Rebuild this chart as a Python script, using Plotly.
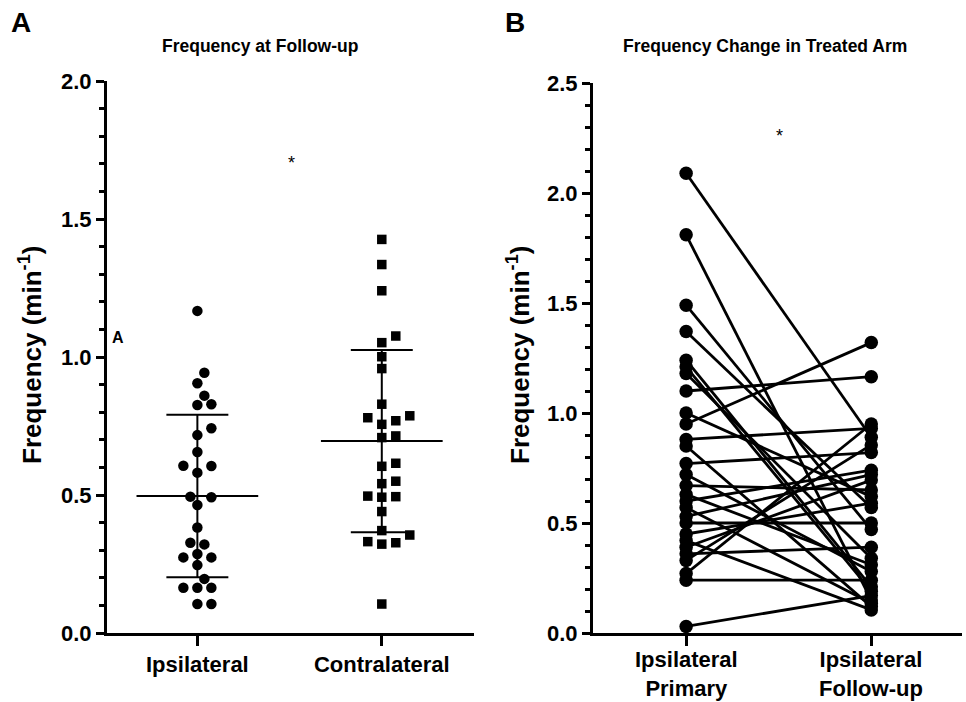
import numpy as np
import plotly.graph_objects as go

# ---------------- data ----------------
categories_a = ["Ipsilateral", "Contralateral"]
ipsilateral = [1.167, 0.943, 0.905, 0.860, 0.829, 0.826, 0.742, 0.717, 0.656, 0.606,
               0.605, 0.581, 0.492, 0.494, 0.464, 0.382, 0.327, 0.321, 0.274, 0.274,
               0.286, 0.246, 0.196, 0.164, 0.164, 0.164, 0.105, 0.105]
contralateral = [1.426, 1.335, 1.240, 1.076, 1.052, 1.001, 0.958, 0.829, 0.780, 0.756,
                 0.769, 0.787, 0.708, 0.714, 0.615, 0.604, 0.541, 0.550, 0.494, 0.492,
                 0.496, 0.440, 0.355, 0.371, 0.327, 0.322, 0.331, 0.105]

categories_b = ["Ipsilateral<br>Primary", "Ipsilateral<br>Follow-up"]
primary = [2.09, 1.81, 1.49, 1.37, 1.24, 1.21, 1.18, 1.10, 1.00, 0.95,
           0.88, 0.85, 0.77, 0.72, 0.67, 0.63, 0.60, 0.57, 0.53, 0.50,
           0.45, 0.42, 0.39, 0.36, 0.33, 0.27, 0.24, 0.03]
followup = [0.89, 0.15, 0.47, 0.57, 0.21, 0.19, 0.34, 1.165, 0.62, 1.32,
            0.93, 0.12, 0.82, 0.28, 0.65, 0.31, 0.74, 0.135, 0.72, 0.50,
            0.59, 0.105, 0.695, 0.39, 0.855, 0.95, 0.24, 0.17]

yticks_a = [0.0, 0.5, 1.0, 1.5, 2.0]
yticks_b = [0.0, 0.5, 1.0, 1.5, 2.0, 2.5]

# ---------------- helpers ----------------
W, H = 966, 702
FONT = "Liberation Sans, Arial, Helvetica, sans-serif"


def px(x):
    return x / W


def py(y):
    return 1 - y / H


def beeswarm(values, px_per_unit, px_per_cat, diam=10.5, step=7.0):
    placed = []
    res = [0.0] * len(values)
    order = np.argsort(values)
    cands = [0.0]
    for m in range(1, 30):
        cands += [m * step, -m * step]
    for i in order:
        yv = values[i] * px_per_unit
        for c in cands:
            if all((c - a) ** 2 + (yv - b) ** 2 >= diam ** 2 for a, b in placed):
                break
        placed.append((c, yv))
        res[i] = c / px_per_cat
    return res


fig = go.Figure()

# ---------------- panel A ----------------
pxu_a = (633 - 81) / 2.0
pxc = 184.5
groups = [(ipsilateral, "circle", 10.5), (contralateral, "square", 9.5)]
for gi, (vals, sym, size) in enumerate(groups):
    offs = beeswarm(vals, pxu_a, pxc)
    fig.add_trace(go.Scatter(
        x=[gi + o for o in offs], y=vals, mode="markers",
        marker=dict(symbol=sym, size=size, color="black", line=dict(width=0)),
        xaxis="x", yaxis="y", showlegend=False, cliponaxis=False))
    m = float(np.mean(vals))
    s = float(np.std(vals, ddof=1))
    lx, ly = [], []
    lx += [gi - 0.33, gi + 0.33, None]
    ly += [m, m, None]
    for v in (m - s, m + s):
        lx += [gi - 0.168, gi + 0.168, None]
        ly += [v, v, None]
    lx += [gi, gi, None]
    ly += [m - s, m + s, None]
    fig.add_trace(go.Scatter(x=lx, y=ly, mode="lines",
                             line=dict(color="black", width=2),
                             xaxis="x", yaxis="y", showlegend=False))

# ---------------- panel B ----------------
bx, by = [], []
for p, f in zip(primary, followup):
    bx += [0, 1, None]
    by += [p, f, None]
fig.add_trace(go.Scatter(
    x=bx, y=by, mode="lines+markers",
    line=dict(color="black", width=2.8),
    marker=dict(symbol="circle", size=13.5, color="black"),
    xaxis="x2", yaxis="y2", showlegend=False, cliponaxis=False))

tickfont = dict(family=FONT, size=22, color="black")
common_y = dict(showline=True, linewidth=3, linecolor="black", ticks="outside",
                ticklen=8, tickwidth=3, tickcolor="black", showgrid=False,
                zeroline=False, tickfont=tickfont, tickformat=".1f", automargin=False,
                minor=dict(dtick=0.1, ticks="outside", ticklen=5, tickwidth=3,
                           tickcolor="black", showgrid=False))
common_x = dict(showline=True, linewidth=3, linecolor="black", ticks="outside",
                ticklen=10, tickwidth=3, tickcolor="black", showgrid=False,
                zeroline=False, tickfont=dict(family=FONT, size=22, color="black"),
                tickmode="array", tickvals=[0, 1], automargin=False)

fig.update_layout(
    width=W, height=H, margin=dict(l=0, r=0, t=0, b=0, autoexpand=False),
    paper_bgcolor="white", plot_bgcolor="white",
    xaxis=dict(domain=[px(107), px(474)], range=[-0.49, 1.5], anchor="y",
               ticktext=["<b>%s</b>" % c for c in categories_a], **common_x),
    yaxis=dict(domain=[py(633), py(81)], range=[0, 2.0], anchor="x",
               tickvals=yticks_a, ticktext=["<b>%.1f</b>" % t for t in yticks_a],
               **common_y),
    xaxis2=dict(domain=[px(593), px(962)], range=[-0.503, 1.49], anchor="y2",
                showticklabels=False, **common_x),
    yaxis2=dict(domain=[py(633), py(83)], range=[0, 2.5], anchor="x2",
                tickvals=yticks_b, ticktext=["<b>%.1f</b>" % t for t in yticks_b],
                **common_y),
)

ann = []


def add_text(text, x, y, size, bold=True, angle=0, xanchor="center"):
    ann.append(dict(text=("<b>%s</b>" % text) if bold else text, x=px(x), y=py(y),
                    xref="paper", yref="paper", showarrow=False, textangle=angle,
                    xanchor=xanchor, yanchor="middle",
                    font=dict(family=FONT, size=size, color="black")))


add_text("A", 21, 22, 28)
add_text("B", 515, 22, 28)
add_text("Frequency at Follow-up", 260, 46, 17.5)
add_text("Frequency Change in Treated Arm", 765, 46, 17.5)
add_text("Frequency (min<sup>-1</sup>)", 30, 355, 26, angle=-90)
add_text("Frequency (min<sup>-1</sup>)", 518, 355, 26, angle=-90)
add_text("A", 118, 337, 16)
add_text("*", 291, 163, 18, bold=False)
add_text("*", 779, 136, 18, bold=False)

# category labels of panel B, placed at the category positions of the x2 axis
for i, lab in enumerate(categories_b):
    ann.append(dict(text="<b>%s</b>" % lab, x=i, xref="x2", y=py(674), yref="paper",
                    showarrow=False, xanchor="center", yanchor="middle",
                    font=dict(family=FONT, size=22, color="black")))

fig.update_layout(annotations=ann)

fig.write_html("out.html",
               config={"displayModeBar": False, "staticPlot": True},
               post_script="document.body.style.margin='0';document.body.style.overflow='hidden';")
